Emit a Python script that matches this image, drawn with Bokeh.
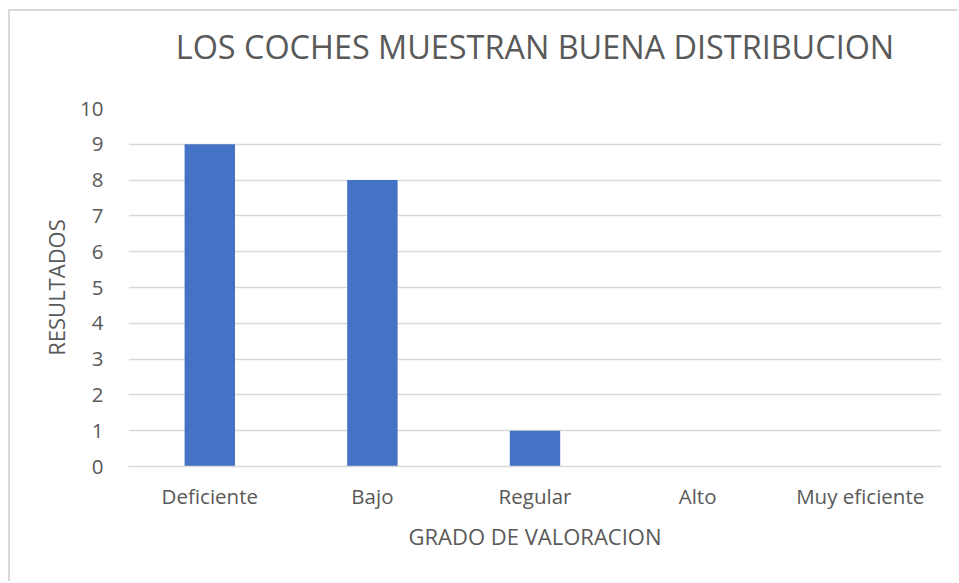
from bokeh.plotting import figure
from bokeh.embed import file_html
from bokeh.resources import INLINE
from bokeh.models import ColumnDataSource, FixedTicker, Title

categories = ["Deficiente", "Bajo", "Regular", "Alto", "Muy eficiente"]
resultados = [9, 8, 1, 0, 0]
y_ticks = [0, 1, 2, 3, 4, 5, 6, 7, 8, 9, 10]

title_text = "LOS COCHES MUESTRAN BUENA DISTRIBUCION"
x_label = "GRADO DE VALORACION"
y_label = "RESULTADOS"

FONT = "Open Sans"
TXT = "#595959"
GRID = "#d9d9d9"

source = ColumnDataSource(data=dict(cat=categories, val=resultados))

p = figure(
    x_range=categories, y_range=(0, 10),
    width=949, height=572,
    output_backend="svg", toolbar_location=None,
    min_border_left=118, min_border_right=18,
    min_border_top=97, min_border_bottom=117,
    title=title_text,
)
p.styles = {"margin-left": "8px", "margin-top": "9px",
            "border-left": "2px solid #d9d9d9", "border-top": "2px solid #d9d9d9"}

# blank spacer between the plot area and the title
p.add_layout(Title(text=" ", text_font_size="1px", standoff=38), "above")

p.vbar(x="cat", top="val", width=0.31, source=source, color="#4472C4", line_color=None)

p.title.align = "center"
p.title.vertical_align = "bottom"
p.title.text_font = FONT
p.title.text_font_size = "32.4px"
p.title.text_font_style = "normal"
p.title.text_color = TXT
p.title.standoff = 0

p.outline_line_color = None
p.xgrid.grid_line_color = None
p.ygrid.grid_line_color = GRID
p.ygrid.grid_line_width = 1.5
p.yaxis.ticker = FixedTicker(ticks=y_ticks)

for ax in (p.xaxis[0], p.yaxis[0]):
    ax.major_tick_line_color = None
    ax.minor_tick_line_color = None
    ax.major_label_text_font = FONT
    ax.major_label_text_font_size = "20.5px"
    ax.major_label_text_color = TXT
    ax.axis_label_text_font = FONT
    ax.axis_label_text_font_size = "22px"
    ax.axis_label_text_font_style = "normal"
    ax.axis_label_text_color = TXT

p.yaxis.axis_line_color = None
p.xaxis.axis_line_color = GRID
p.xaxis.axis_line_width = 1.5
p.yaxis.axis_label = y_label
p.xaxis.axis_label = x_label
p.yaxis.major_label_standoff = 19
p.yaxis.axis_label_standoff = 6
p.xaxis.major_label_standoff = 9
p.xaxis.axis_label_standoff = 8

open("out.html", "w").write(file_html(p, INLINE))
